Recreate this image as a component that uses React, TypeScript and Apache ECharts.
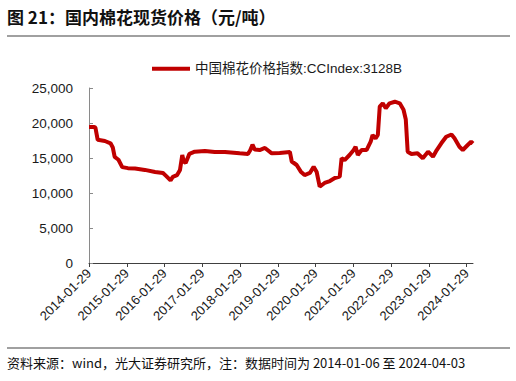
import React, { useEffect, useRef } from "react";
import * as echarts from "echarts";

const titleText = "图 21：国内棉花现货价格（元/吨）";
const sourceText = "资料来源：wind，光大证券研究所，注：数据时间为 2014-01-06 至 2024-04-03";
const seriesName = "中国棉花价格指数:CCIndex:3128B";

const tickYears = [2014, 2015, 2016, 2017, 2018, 2019, 2020, 2021, 2022, 2023, 2024];

// x position in fractional years (axis labelled on each YYYY-01-29)
const dateYears = [
  2014.0, 2014.14, 2014.17, 2014.23, 2014.42, 2014.57, 2014.63, 2014.68, 2014.78, 2014.88,
  2015.03, 2015.22, 2015.48, 2015.75, 2015.96, 2016.04, 2016.16, 2016.22, 2016.33, 2016.41,
  2016.47, 2016.51, 2016.56, 2016.66, 2016.8, 2017.07, 2017.33, 2017.6, 2017.99, 2018.21,
  2018.27, 2018.33, 2018.39, 2018.52, 2018.66, 2018.84, 2019.05, 2019.32, 2019.37, 2019.5,
  2019.61, 2019.71, 2019.85, 2019.95, 2020.03, 2020.11, 2020.24, 2020.38, 2020.51, 2020.64,
  2020.69, 2020.77, 2020.9, 2021.01, 2021.06, 2021.12, 2021.22, 2021.35, 2021.46, 2021.51,
  2021.59, 2021.65, 2021.7, 2021.78, 2021.86, 2021.96, 2022.1, 2022.23, 2022.33, 2022.39,
  2022.44, 2022.54, 2022.7, 2022.84, 2022.98, 2023.11, 2023.21, 2023.33, 2023.46, 2023.6,
  2023.68, 2023.81, 2023.9, 2024.03, 2024.12, 2024.17,
];

const cottonPrice = [
  19430, 19430, 19350, 17600, 17430, 17100, 16500, 15150, 14750, 13700,
  13550, 13500, 13300, 13000, 12850, 12450, 11800, 12300, 12550, 13300,
  15430, 14500, 14300, 15600, 15900, 16000, 15860, 15860, 15670, 15570,
  16100, 16900, 16200, 16140, 16430, 15670, 15710, 15860, 14500, 14000,
  13050, 12570, 12860, 13760, 13000, 10900, 11430, 11710, 12140, 12330,
  14960, 14710, 15430, 16140, 16610, 15430, 16140, 16140, 17330, 18290,
  17810, 18290, 22330, 22810, 22100, 22810, 23040, 22810, 21900, 20500,
  15900, 15570, 15670, 14960, 15900, 15190, 16140, 17100, 18040, 18360,
  17810, 16610, 16140, 16860, 17330, 17070,
];

const cjk = "'Noto Sans CJK SC', sans-serif";
const latin = "'Liberation Sans', 'Noto Sans CJK SC', sans-serif";

export default function App() {
  const ref = useRef<HTMLDivElement>(null);
  useEffect(() => {
    if (!ref.current) return;
    const chart = echarts.init(ref.current, null, { renderer: "svg" });
    const data = dateYears.map((t, i) => [t, cottonPrice[i]]);
    chart.setOption({
      animation: false,
      backgroundColor: "#ffffff",
      grid: { left: 89, right: 43, top: 88, bottom: 118 },
      legend: {
        left: 147,
        top: 57,
        itemWidth: 38,
        itemHeight: 14,
        itemGap: 10,
        icon: "rect",
        data: [{ name: seriesName, icon: "path://M0,5 L38,5 L38,9 L0,9 Z" }],
        textStyle: { fontFamily: latin, fontSize: 13.5, color: "#1a1a1a" },
      },
      xAxis: {
        type: "value",
        min: 2014,
        max: 2024.17,
        interval: 1,
        splitLine: { show: false },
        axisLine: { show: true, lineStyle: { color: "#404040", width: 1 } },
        axisTick: { show: true, length: 4, inside: false, customValues: tickYears, lineStyle: { color: "#404040" } },
        axisLabel: {
          customValues: tickYears,
          rotate: 45,
          margin: 8,
          fontFamily: latin,
          fontSize: 13,
          color: "#1a1a1a",
          formatter: (v: number) => `${Math.round(v)}-01-29`,
        },
      },
      yAxis: {
        type: "value",
        min: 0,
        max: 25000,
        interval: 5000,
        splitLine: { show: false },
        axisLine: { show: true, lineStyle: { color: "#8a8a8a", width: 1 } },
        axisTick: { show: true, inside: true, length: 4, lineStyle: { color: "#8a8a8a" } },
        axisLabel: {
          margin: 16,
          fontFamily: latin,
          fontSize: 13.5,
          color: "#1a1a1a",
          formatter: (v: number) => v.toLocaleString("en-US"),
        },
      },
      series: [
        {
          name: seriesName,
          type: "line",
          data,
          showSymbol: false,
          symbol: "none",
          lineStyle: { color: "#c00000", width: 4 },
          itemStyle: { color: "#c00000" },
        },
      ],
      graphic: [
        {
          type: "text",
          x: 7,
          y: 16,
          style: {
            text: titleText,
            fill: "#111",
            fontFamily: cjk,
            fontSize: 17,
            fontWeight: "bold",
            verticalAlign: "middle",
          },
        },
        {
          type: "line",
          shape: { x1: 7, y1: 36, x2: 510, y2: 36 },
          style: { stroke: "#808080", lineWidth: 1.5 },
        },
        {
          type: "line",
          shape: { x1: 7, y1: 348, x2: 510, y2: 348 },
          style: { stroke: "#808080", lineWidth: 1.5 },
        },
        {
          type: "text",
          x: 7,
          y: 362,
          style: {
            text: sourceText,
            fill: "#111",
            fontFamily: cjk,
            fontSize: 13,
            verticalAlign: "middle",
          },
        },
      ],
    });
    return () => chart.dispose();
  }, []);
  return (
    <div
      ref={ref}
      style={{ position: "absolute", left: 0, top: 0, width: 516, height: 381 }}
    />
  );
}
